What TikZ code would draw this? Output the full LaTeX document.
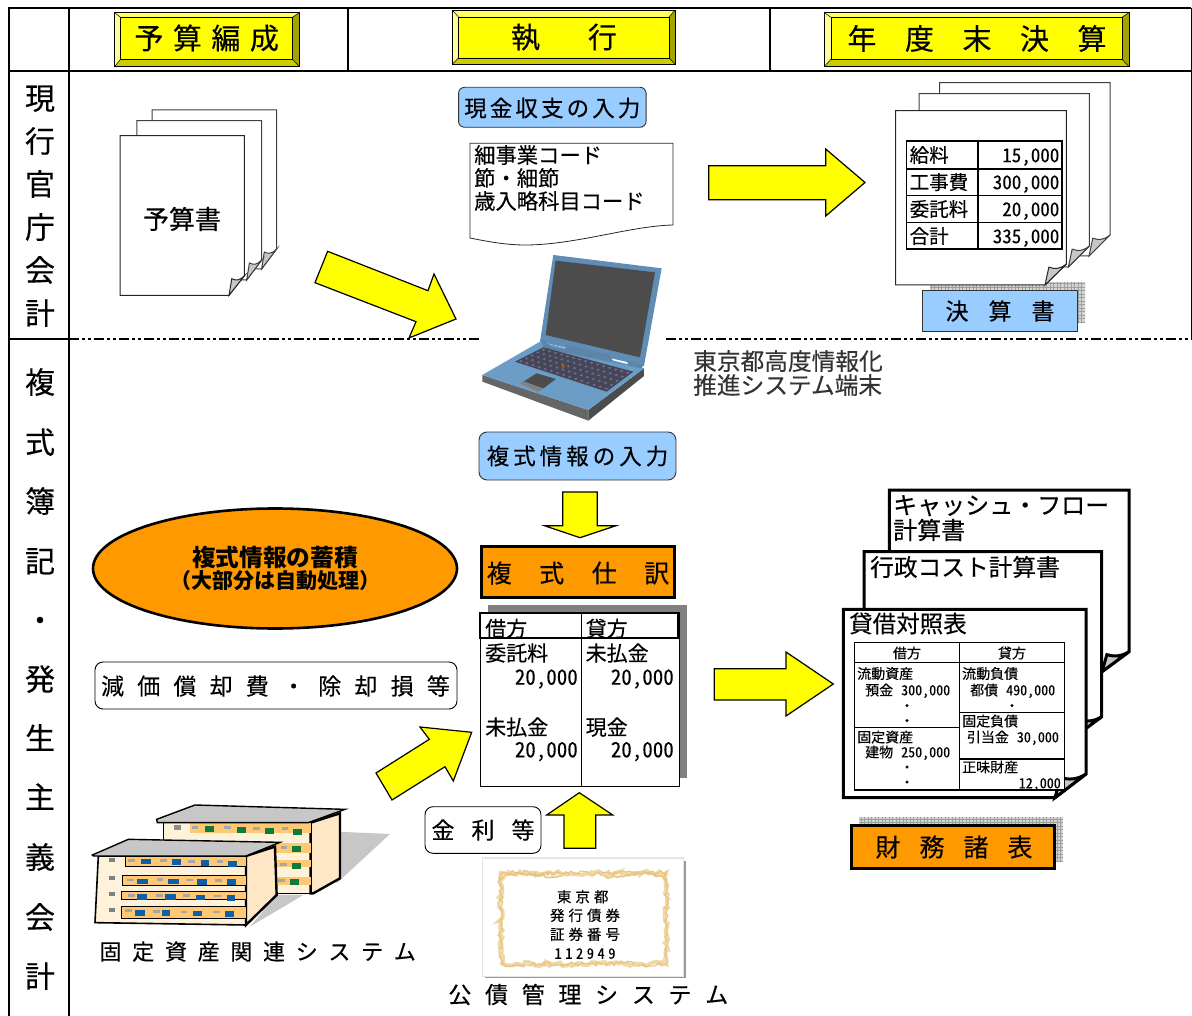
\documentclass[tikz,border=0pt]{standalone}
\usepackage{fontspec}
\setmainfont[FakeBold=0.3]{Noto Sans CJK JP}
\newfontfamily\hwf[RawFeature=+hwid,FakeBold=0.15]{Noto Sans CJK JP}
\newfontfamily\bfw{Noto Sans CJK JP}
\usetikzlibrary{decorations.pathmorphing,shapes.geometric}
\definecolor{ylw}{HTML}{FFFF00}
\definecolor{skyb}{HTML}{99CCFF}
\definecolor{orng}{HTML}{FF9900}
\definecolor{lapb}{HTML}{6C9DC6}
\definecolor{lapd}{HTML}{5F8DB5}
\definecolor{cream}{HTML}{FFF2DA}
\definecolor{cream2}{HTML}{FFE6C4}
\definecolor{band}{HTML}{FFC875}
\definecolor{winb}{HTML}{0F5FA8}
\definecolor{wing}{HTML}{0E7A3C}
\definecolor{gold}{HTML}{F0D8A4}
\definecolor{gold2}{HTML}{E6C27E}
\definecolor{bevT}{HTML}{FFFF66}
\definecolor{bevL}{HTML}{FFFF99}
\definecolor{bevB}{HTML}{CCCC00}
\definecolor{bevR}{HTML}{A3A300}
\definecolor{keyb}{HTML}{46465A}
\definecolor{keyd}{HTML}{6E6E82}
\makeatletter
\newcommand\lsp[2]{\def\lsp@gap{}\@tfor\lsp@c:=#2\do{\lsp@gap\lsp@c\def\lsp@gap{\hspace{#1pt}}}}
\makeatother
\newcommand\foldpg[8]{%
 \filldraw[fill=white,draw=#8,line width=#7pt] (#1,#2)--(#3,#2)--(#3,{#4-#6})--({#3-#5},#4)--(#1,#4)--cycle;
 \filldraw[fill=black!22,draw=#8,line width=#7pt] ({#3-#5},#4) -- ({#3-.82*#5},{#4-.85*#6}) .. controls ({#3-.55*#5},{#4-.75*#6}) and ({#3-.3*#5},{#4-.75*#6}) .. (#3,{#4-#6}) -- cycle;}
\newcommand\bevel[8]{%
 \fill[ylw] (#5,#6) rectangle (#7,#8);
 \fill[bevT] (#1,#2)--(#3,#2)--(#7,#6)--(#5,#6)--cycle;
 \fill[bevL] (#1,#2)--(#5,#6)--(#5,#8)--(#1,#4)--cycle;
 \fill[bevB] (#1,#4)--(#5,#8)--(#7,#8)--(#3,#4)--cycle;
 \fill[bevR] (#3,#2)--(#7,#6)--(#7,#8)--(#3,#4)--cycle;
 \draw[line width=.8pt] (#1,#2) rectangle (#3,#4);
 \draw[line width=.8pt] (#5,#6) rectangle (#7,#8);
 \draw[line width=.5pt] (#1,#2)--(#5,#6) (#3,#2)--(#7,#6) (#1,#4)--(#5,#8) (#3,#4)--(#7,#8);}
\newcommand\gridshadow[4]{%
 \fill[black!17] (#1,#2) rectangle (#3,#4);
 \begin{scope}
 \clip (#1,#2) rectangle (#3,#4);
 \draw[black!38,line width=.3pt,step=3.5pt] (#1,#2) grid (#3,#4);
 \end{scope}}
\tikzset{
 tx/.style={inner sep=0pt,font=\fontsize{#1}{#1}\selectfont,text height={0.88*#1*1pt},text depth={0.12*#1*1pt}},
 hw/.style={inner sep=0pt,font=\fontsize{#1}{#1}\hwf\selectfont,text height={0.88*#1*1pt},text depth={0.12*#1*1pt}},
 tb/.style={inner sep=0pt,font=\fontsize{#1}{#1}\bfw\bfseries\selectfont,text height={0.88*#1*1pt},text depth={0.12*#1*1pt}},
 barrow/.style={fill=ylw,draw=black,line width=1.2pt,line join=miter},
 skybox/.style={fill=skyb,draw=black!80,line width=.9pt},
 whitebox/.style={fill=white,draw=black,line width=.9pt},
 orbox/.style={fill=orng,draw=black,line width=3pt},
 frame/.style={line width=2pt,draw=black},
 roof/.style={fill=black!22,draw=black,line width=1.4pt},
}
\begin{document}
\begin{tikzpicture}[x=1pt,y=-1pt]
\useasboundingbox (0,0) rectangle (1192,1016);
\fill[white] (0,0) rectangle (1192,1016);
% ---- frame
\draw[frame] (9,1016)--(9,8)--(1191,8);
\draw[frame] (9,71)--(1191,71);
\draw[frame] (69,8)--(69,1016);
\draw[frame] (348,8)--(348,71) (770,8)--(770,71);
\draw[line width=1pt] (1191,8)--(1191,339);
\draw[frame] (9,339)--(69,339);
\draw[line width=1.6pt,dash pattern=on 10pt off 3pt on 3pt off 3pt on 3pt off 3pt] (69,339)--(480,339);
\draw[line width=1.6pt,dash pattern=on 10pt off 3pt on 3pt off 3pt on 3pt off 3pt] (666,339)--(1192,339);
% ---- headers
\bevel{114.5}{12.6}{299.5}{66.7}{120.5}{17.3}{292.5}{59.3}
\node[tx=29] (h1) at (206.7,38) {\lsp{9.5}{予算編成}};
\bevel{452.5}{10.3}{675}{64}{458.5}{17}{669}{58}
\node[tx=29] (h2) at (564,37) {\lsp{48}{執行}};
\bevel{824}{12.6}{1129}{66.7}{831}{17.3}{1122}{59.3}
\node[tx=29] (h3) at (977,38.5) {\lsp{28.5}{年度末決算}};
% ---- left column
\foreach \c/\y/\n in {現/98/a,行/141/b,官/184/c,庁/227/d,会/270/e,計/313/f}
  \node[tx=30] (l\n) at (40,\y) {\c};
\foreach \c/\y/\n in {複/382/a,式/442/b,簿/501/c,記/561/d,・/620/e,発/679/f,生/738/g,主/797/h,義/857/i,会/917/j,計/976/k}
  \node[tx=30] (m\n) at (40,\y) {\c};
% ---- budget docs
\foldpg{152}{110}{276.6}{269}{15}{20}{1}{black!75}
\foldpg{136.8}{120.7}{261.7}{280}{15}{20}{1}{black!75}
\foldpg{120}{135.7}{244.4}{295.3}{15.4}{19.5}{1}{black!85}
\node[tx=26] (bud) at (182,219) {予算書};
% ---- arrow 1
\draw[barrow] (327.6,251.3)--(428,290.7)--(434,274)--(456,319)--(409,338)--(416,321.7)--(315,282.7)--cycle;
% ---- cash
\node[skybox,rounded corners=6pt,minimum width=187.5pt,minimum height=40pt,inner sep=0pt] (cash) at (552.3,107.3) {};
\node[tx=22.5] (casht) at (552.3,108) {\lsp{3.1}{現金収支の入力}};
\filldraw[fill=white,draw=black!85,line width=.8pt] (470,143.3)--(673,143.3)--(673,225) .. controls (630,226) and (575,245) .. (525,245) .. controls (505,245) and (485,241) .. (470,238)--cycle;
\node[tx=21.3,anchor=west] (c1) at (474,155) {細事業コード};
\node[tx=21.3,anchor=west] (c2) at (474,178) {節・細節};
\node[tx=21.3,anchor=west] (c3) at (474,201) {歳入略科目コード};
% ---- arrow 2
\draw[barrow] (708.7,165.7)--(825.7,165.7)--(825.7,149)--(865,182.5)--(825.7,216)--(825.7,199.7)--(708.7,199.7)--cycle;
% ---- result docs
\foldpg{939.6}{82.7}{1110}{256}{21}{21}{1}{black!75}
\foldpg{919}{93.7}{1089.4}{267}{21}{21}{1}{black!75}
\gridshadow{930}{282}{1085}{323.5}
\foldpg{895.5}{110.7}{1066.4}{285}{21.4}{21}{1}{black!85}
\draw[line width=1.7pt] (906.4,141.3) rectangle (1062,249.3);
\draw[line width=1.7pt] (977.7,141.3)--(977.7,249.3) (906.4,168.7)--(1062,168.7) (906.4,195.5)--(1062,195.5) (906.4,222.5)--(1062,222.5);
\foreach \a/\b/\y/\n in {給料/{15,000}/155/a,工事費/{300,000}/182/b,委託料/{20,000}/209/c,合計/{335,000}/236/d}{
  \node[tx=19.5,anchor=west] (ra\n) at (909.5,\y) {\a};
  \node[hw=19,anchor=east] (rb\n) at (1059.5,\y) {\b};}
\node[skybox,minimum width=155pt,minimum height=41pt,inner sep=0pt] (kes) at (999.5,310.5) {};
\node[tx=23] (kest) at (1000,311) {\lsp{20}{決算書}};
% ---- laptop
\begin{scope}[shift={(440,240)},x=.3333pt,y=-.3333pt]
 \fill[black!60] (127,405)--(127,425)--(445,542)--(445,510)--cycle;
 \fill[black!70] (445,510)--(445,542)--(612,408)--(612,385)--cycle;
 \fill[lapb] (127,405)--(300,305)--(612,385)--(445,510)--cycle;
 \fill[lapd] (340,45)--(665,85)--(612,378)--(300,305)--cycle;
 \fill[black!70] (347,62)--(645,97)--(600,352)--(317,285)--cycle;
 \fill[lapb!85!black] (305,297)--(335,320)--(375,328)--(380,315)--(510,345)--(520,365)--(565,375)--(560,360)--(610,375)--(605,385)--(310,325)--cycle;
 \fill[keyb] (225,365)--(310,322)--(580,395)--(500,455)--cycle;
 \foreach \i in {0,...,14}{\foreach \j in {0,...,4}{
   \pgfmathsetmacro\u{(\i+.5)/15}\pgfmathsetmacro\v{(\j+.5)/5}
   \pgfmathsetmacro\xx{(1-\v)*((1-\u)*310+\u*580)+\v*((1-\u)*225+\u*500)}
   \pgfmathsetmacro\yy{(1-\v)*((1-\u)*322+\u*395)+\v*((1-\u)*365+\u*455)}
   \fill[keyd] (\xx,\yy) ellipse (5 and 3.5);}}
 \fill[orange!70!black] (370,379) circle (5);
 \fill[black!70] (250,425)--(290,400)--(348,417)--(310,445)--cycle;
 \fill[black!50] (238,430)--(250,423)--(310,447)--(295,455)--cycle;
\end{scope}
\node[tx=23.7,anchor=west,text=black!80] (tk1) at (693,361) {東京都高度情報化};
\node[tx=23.7,anchor=west,text=black!80] (tk2) at (693,385) {推進システム端末};
% ---- input box
\node[skybox,rounded corners=8pt,minimum width=197pt,minimum height=48pt,inner sep=0pt] (fuku) at (577.5,456) {};
\node[tx=22.5] (fukut) at (577.5,456) {\lsp{4}{複式情報の入力}};
\draw[barrow] (562.7,492)--(597.3,492)--(597.3,525.7)--(616,525.7)--(580,537.7)--(544.5,525.7)--(562.7,525.7)--cycle;
% ---- shiwake
\node[orbox,minimum width=193pt,minimum height=51pt,inner sep=0pt] (shi) at (577.8,572.3) {};
\node[tx=25] (shit) at (578,573) {\lsp{27.5}{複式仕訳}};
\fill[black!50] (488.3,605) rectangle (687.3,778);
\filldraw[fill=white,draw=black,line width=1pt] (480.3,612.7) rectangle (679,786);
\draw[line width=2pt] (480.3,638)--(480.3,612.7)--(677.7,612.7)--(677.7,638)--cycle;
\draw[line width=1pt] (581.3,612.7)--(581.3,786);
\foreach \t/\x/\y/\n in {借方/485/628.5/a,貸方/585.5/628.5/b,委託料/485/653/c,未払金/585.5/653/d,未払金/485/727/e,現金/585.5/727/f}
  \node[tx=21,anchor=west] (s\n) at (\x,\y) {\t};
\foreach \x/\y/\n in {578/676.7/a,674/676.7/b,578/749.3/c,674/749.3/d}
  \node[hw=21,anchor=east] (v\n) at (\x,\y) {20,000};
% ---- ellipse
\node[ellipse,draw=black,line width=2.6pt,fill=orng,minimum width=364pt,minimum height=120pt,inner sep=0pt] (ell) at (275,568.5) {};
\node[tb=23.7] (ell1) at (275,557) {複式情報の蓄積};
\node[tb=21] (ell2) at (275,581) {（大部分は自動処理）};
% ---- genka
\node[whitebox,rounded corners=8pt,minimum width=362pt,minimum height=47pt,inner sep=0pt] (gen) at (276,685.5) {};
\node[tx=23] (gent) at (275.5,686) {\lsp{13.2}{減価償却費・除却損等}};
% ---- arrows to journal
\draw[barrow] (376,773)--(429.3,739.3)--(420,727)--(471.7,732.3)--(453.3,781)--(445,766.7)--(392,800)--cycle;
\draw[barrow] (579.3,792.7)--(612.7,815)--(595.7,815)--(595.7,848.3)--(564,848.3)--(564,815)--(546.7,815)--cycle;
\node[whitebox,rounded corners=8pt,minimum width=116pt,minimum height=46.6pt,inner sep=0pt] (kin) at (483,830) {};
\node[tx=23] (kint) at (483,830) {\lsp{17}{金利等}};
% ---- certificate
\fill[black!40] (485,861) rectangle (685.5,978);
\fill[black!10] (481.5,857) rectangle (684,976.7);
\fill[white] (483,858.5) rectangle (683,975.5);
\draw[gold,line width=4pt,decorate,decoration={random steps,segment length=3pt,amplitude=2pt}] (501,873)--(666,873)--(666,964)--(501,964)--cycle;
\draw[gold2,line width=1pt,decorate,decoration={random steps,segment length=3pt,amplitude=2.4pt}] (501,873)--(666,873)--(666,964)--(501,964)--cycle;
\draw[gold2,line width=1.4pt,decorate,decoration={random steps,segment length=3pt,amplitude=1.5pt}] (500,880) .. controls (520,866) and (545,880) .. (562,876) (667,880) .. controls (647,866) and (622,880) .. (605,876);
\node[tx=14.5] (ce1) at (582.7,896.7) {\lsp{4}{東京都}};
\node[tx=14.5] (ce2) at (585,915.3) {\lsp{4}{発行債券}};
\node[tx=14.5] (ce3) at (585,934.3) {\lsp{4}{証券番号}};
\node[hw=14.5] (ce4) at (585,953.3) {\lsp{3.5}{112949}};
\node[tx=23] (kos) at (588.3,994.5) {\lsp{13.7}{公債管理システム}};
% ---- buildings
\begin{scope}[shift={(70,780)},x=.3333pt,y=-.3333pt]
 \fill[black!22] (800,155)--(960,162)--(800,310)--cycle;
 % back building
 \filldraw[fill=cream,draw=black,line width=1.2pt] (280,128)--(722,128)--(722,340)--(280,340)--cycle;
 \filldraw[fill=cream2,draw=black,line width=2.4pt] (722,128)--(810,100)--(810,295)--(730,340)--(722,340)--cycle;
 \foreach \y/\h in {130/30,188/30,240/22,290/25}
   \fill[band] (360,\y) rectangle (722,\y+\h);
 \foreach \x/\y in {405/138,500/142,585/145,668/147,665/198,665/250,660/298}
   \fill[wing] (\x,\y) rectangle (\x+28,\y+17);
 \foreach \x/\y in {365/138,462/138,550/140,635/142,632/198,630/248,625/296}
   \fill[black!35] (\x,\y) rectangle (\x+20,\y+9);
 \fill[black!45] (312,136) rectangle (332,150);
 \filldraw[roof] (260,118)--(375,75)--(825,88)--(715,128)--(262,128)--cycle;
 % front building
 \fill[black!22] (620,345)--(700,345)--(540,440)--cycle;
 \filldraw[fill=cream,draw=black,line width=1.6pt] (85,228)--(528,228)--(528,435)--(75,428)--cycle;
 \filldraw[fill=cream2,draw=black,line width=2.4pt] (528,228)--(615,200)--(620,345)--(528,435)--cycle;
 \foreach \x/\y/\w/\h in {165/228/363/30,158/285/370/30,155/335/373/23,155/380/373/35}
   \filldraw[fill=band,draw=black,line width=.6pt] (\x,\y) rectangle (\x+\w,\y+\h);
 \foreach \x/\y/\w in {212/236/32,305/238/28,392/241/26,475/244/26,202/296/32,295/296/32,382/298/30,472/297/27,200/343/30,285/342/33,378/344/27,470/345/26,195/390/30,275/391/26,368/392/27,465/393/26}
   \fill[winb] (\x,\y) rectangle (\x+\w,\y+17);
 \foreach \x/\y in {175/238,270/238,355/240,440/240,172/296,260/294,348/296,436/298,175/343,258/343,340/343,433/344,165/388,250/390,332/392,430/392}
   \fill[black!35] (\x,\y) rectangle (\x+20,\y+8);
 \foreach \y in {235,288,337,385}
   \fill[black!50] (118,\y) rectangle (135,\y+11);
 \filldraw[roof] (67,225)--(175,178)--(630,187)--(528,228)--(70,228)--cycle;
\end{scope}
\node[tx=22] (kot) at (257.7,951.5) {\lsp{10.7}{固定資産関連システム}};
% ---- arrow to statements
\draw[barrow] (714.3,668.7)--(786,668.7)--(786,652)--(833.3,684)--(786,716)--(786,700)--(714.3,700)--cycle;
% ---- statements
\foldpg{889.3}{490}{1129}{671.7}{27}{20}{3}{black}
\foldpg{864}{551.7}{1101.7}{736.7}{27}{20}{3}{black}
\foldpg{843.3}{609.3}{1086}{797.7}{31}{23.7}{3}{black}
\node[tx=24,anchor=west] (f1) at (893,505) {キャッシュ・フロー};
\node[tx=24,anchor=west] (f2) at (893,530) {計算書};
\node[tx=23.7,anchor=west] (f3) at (870,567) {行政コスト計算書};
\node[tx=23.5,anchor=west] (f4) at (849,623.5) {貸借対照表};
\filldraw[fill=white,draw=black,line width=1.1pt] (854.3,642.3) rectangle (1064.3,790);
\draw[line width=1.1pt] (959.3,642.3)--(959.3,790) (854.3,662.3)--(1064.3,662.3) (854.3,727.7)--(959.3,727.7) (959.3,712.7)--(1064.3,712.7) (959.3,759)--(1064.3,759);
\node[tx=14] (g1) at (907,653) {借方};
\node[tx=14] (g2) at (1012,653) {貸方};
\node[tx=14,anchor=west] (g3) at (857,673.5) {流動資産};
\node[tx=14,anchor=west] (g4) at (865,690) {預金\hspace{8pt}{\hwf 300,000}};
\node[tx=14,anchor=west] (g5) at (962,673.5) {流動負債};
\node[tx=14,anchor=west] (g6) at (970,690) {都債\hspace{8pt}{\hwf 490,000}};
\node[tx=14,anchor=west] (g7) at (962,721) {固定負債};
\node[tx=14,anchor=west] (g8) at (966.7,737) {引当金\hspace{8pt}{\hwf 30,000}};
\node[tx=14,anchor=west] (g9) at (857,737) {固定資産};
\node[tx=14,anchor=west] (g10) at (865,752) {建物\hspace{8pt}{\hwf 250,000}};
\node[tx=14,anchor=west] (g11) at (962,767) {正味財産};
\node[hw=14,anchor=east] (g12) at (1061,783) {12,000};
\foreach \x/\y/\n in {907/705.7/a,907/720.7/b,1012/705.7/c,907/767/d,907/782/e}
  \node[tx=14] (dot\n) at (\x,\y) {・};
% ---- zaimu
\gridshadow{859.3}{816.7}{1063.3}{861.7}
\node[orbox,minimum width=203pt,minimum height=43pt,inner sep=0pt] (zai) at (953.3,846.7) {};
\node[tx=25] (zait) at (954,847) {\lsp{19}{財務諸表}};
\end{tikzpicture}
\end{document}
